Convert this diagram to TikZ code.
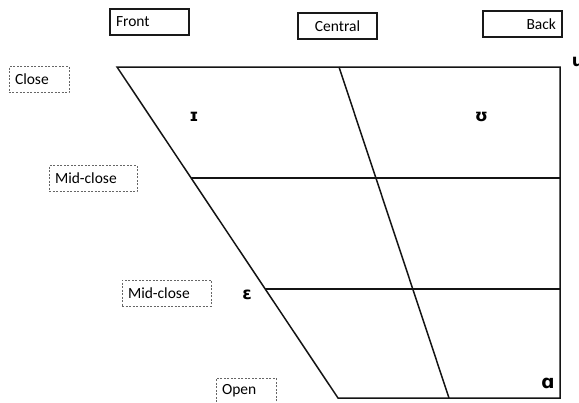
\documentclass[tikz,border=0pt]{standalone}
\usepackage{fontspec}
\setmainfont{Carlito}
\newfontfamily\ipafont{DejaVu Sans}
\begin{document}
\begin{tikzpicture}[x=1bp,y=-1bp,
  solidbox/.style={draw=black!90, line width=1.4bp, minimum height=26bp, inner xsep=6bp, inner ysep=0bp, font=\fontsize{15.5bp}{17bp}\selectfont},
  dashbox/.style={draw=black!60, dashed, dash pattern=on 2bp off 1.5bp, line width=0.8bp, minimum height=26bp, inner xsep=6bp, inner ysep=0bp, font=\fontsize{15.5bp}{17bp}\selectfont},
  chartline/.style={draw=black!92, line width=1.5bp},
  vowel/.style={font=\ipafont\bfseries\fontsize{17bp}{18bp}\selectfont, inner sep=0pt}]
\useasboundingbox (0,0) rectangle (579,402);
% chart corners
\coordinate (TL) at (117,67);
\coordinate (TR) at (560,67);
\coordinate (BR) at (560,398);
\coordinate (BL) at (338,398);
\coordinate (CT) at (339,67);
\coordinate (CB) at (449,398);
\coordinate (M1L) at (191,178);
\coordinate (M1R) at (560,178);
\coordinate (M2L) at (265,289);
\coordinate (M2R) at (560,289);
\draw[chartline, line join=miter] (TL) -- (TR) -- (BR) -- (BL) -- cycle;
\draw[chartline] (CT) -- (CB);
\draw[chartline] (M1L) -- (M1R);
\draw[chartline] (M2L) -- (M2R);
% column labels
\node[solidbox, text width=67bp, align=left] (front) at (149.5,22) {Front};
\node[solidbox, text width=67bp, align=center] (central) at (337.5,26) {Central};
\node[solidbox, text width=67bp, align=right] (back) at (522.5,24) {Back};
% row labels
\node[dashbox, text width=48bp, align=left] (close) at (39,79.5) {Close};
\node[dashbox, text width=76bp, align=left] (midclose1) at (93,178.5) {Mid-close};
\node[dashbox, text width=77bp, align=left] (midclose2) at (166.5,293) {Mid-close};
\node[dashbox, text width=48bp, align=left, anchor=north] (open) at (246,378) {\strut Open};
% vowels
\node[vowel] (vI) at (194,116.5) {ɪ};
\node[vowel] (vU) at (481.5,116.5) {ʊ};
\node[vowel] (vE) at (247,295) {ɛ};
\node[vowel, font=\ipafont\bfseries\fontsize{18.5bp}{20bp}\selectfont] (vA) at (548,383) {ɑ};
\node[vowel] (vu) at (578,62) {u};
\end{tikzpicture}
\end{document}
